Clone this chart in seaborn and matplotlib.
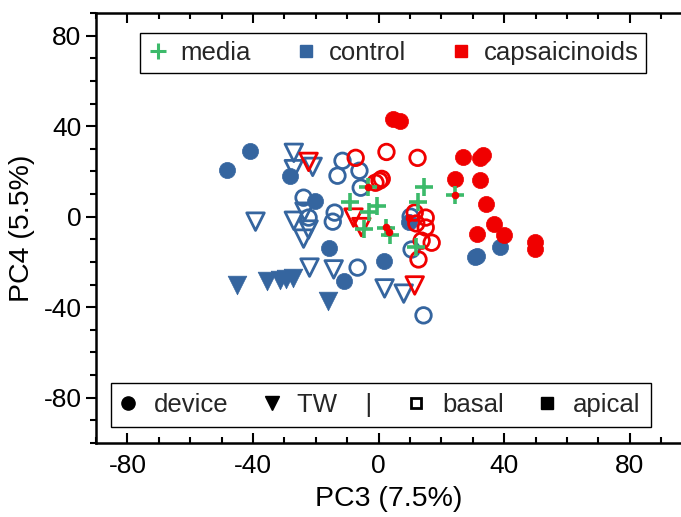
import matplotlib
matplotlib.use("Agg")
import matplotlib.pyplot as plt
from matplotlib.lines import Line2D
from matplotlib.ticker import MultipleLocator
import seaborn as sns
import pandas as pd

BLUE = "#35659f"
RED = "#f00000"
GREEN = "#3cba6a"

# control, device, apical (filled circles)
ctrl_dev_ap_x = [-48.4, -41.1, -28.3, -20.4, -15.9, -11.1, 1.6, 9.6, 30.6, 31.2, 38.5]
ctrl_dev_ap_y = [20.7, 29.1, 18.1, 7.0, -13.7, -28.6, -19.8, -2.2, -18.0, -17.2, -13.2]
# control, TW, apical (filled triangles)
ctrl_tw_ap_x = [-45.2, -35.7, -31.5, -29.5, -27.3, -16.2]
ctrl_tw_ap_y = [-30.0, -28.6, -27.8, -27.6, -27.3, -37.4]
# control, TW, basal (hollow triangles)
ctrl_tw_ba_x = [-27.0, -27.0, -21.0, -39.2, -27.0, -23.6, -22.3, -23.9, -22.0, -14.3, 1.9, 8.0]
ctrl_tw_ba_y = [28.2, 21.0, 22.0, -2.2, -1.8, 2.2, -5.7, -9.7, -22.5, -23.3, -31.7, -34.0]
# control, device, basal (hollow circles)
ctrl_dev_ba_x = [-11.5, -6.1, -13.1, -5.7, -23.9, -22.3, -14.0, -14.6, -6.7, 10.2, 10.5, 14.3]
ctrl_dev_ba_y = [24.7, 20.3, 18.1, 12.8, 8.4, -0.4, 1.8, -2.2, -22.5, 0.0, -14.5, -43.6]

# capsaicinoids, device, apical (filled circles)
caps_dev_ap_x = [4.5, 6.7, 26.8, 32.2, 33.4, 24.2, 32.2, 34.1, 36.6, 31.2, 39.8, 49.7, 49.7]
caps_dev_ap_y = [43.2, 42.3, 26.4, 26.0, 27.3, 16.7, 16.3, 5.7, -3.1, -7.5, -7.9, -11.0, -14.1]
# capsaicinoids, device, basal (hollow circles)
caps_dev_ba_x = [-7.3, 2.5, 12.4, -1.0, 0.3, 1.0, 11.5, 15.0, 15.0, 12.0, 13.7, 16.9, 12.7]
caps_dev_ba_y = [26.0, 28.6, 26.0, 15.0, 15.9, 16.7, 1.8, -0.4, -4.8, -3.0, -10.6, -11.5, -18.9]
# capsaicinoids, TW, basal (hollow triangles)
caps_tw_ba_x = [-22.3, -8.0, -5.5, 11.5]
caps_tw_ba_y = [24.2, -0.4, -4.6, -30.4]

# media (plus)
media_x = [-9.2, -3.2, -0.6, -4.8, 2.2, 3.5, 14.6, 12.7, 11.8, 24.2, -3.5]
media_y = [6.6, 2.2, 4.8, -5.3, -4.8, -7.9, 13.2, 6.6, -13.2, 9.7, 13.2]
# small red dots on media points
dot_x = [24.2, -3.5, 2.2, 3.2, 9.7]
dot_y = [9.7, 13.2, -4.4, -6.6, -0.8]

sns.set_theme(style="white")
plt.rcParams["font.family"] = ["Liberation Sans", "DejaVu Sans"]
plt.rcParams["axes.unicode_minus"] = False

fig = plt.figure(figsize=(6.81, 5.17), dpi=100)
ax = fig.add_axes([96 / 681, 74 / 517, 585 / 681, 430 / 517])

groups = [
    (ctrl_dev_ba_x, ctrl_dev_ba_y, "o", BLUE, False, 125),
    (ctrl_tw_ba_x, ctrl_tw_ba_y, "v", BLUE, False, 160),
    (ctrl_dev_ap_x, ctrl_dev_ap_y, "o", BLUE, True, 135),
    (ctrl_tw_ap_x, ctrl_tw_ap_y, "v", BLUE, True, 180),
    (caps_dev_ba_x, caps_dev_ba_y, "o", RED, False, 125),
    (caps_tw_ba_x, caps_tw_ba_y, "v", RED, False, 160),
    (caps_dev_ap_x, caps_dev_ap_y, "o", RED, True, 135),
]
for gx, gy, m, c, filled, s in groups:
    df = pd.DataFrame({"x": gx, "y": gy})
    if filled:
        sns.scatterplot(data=df, x="x", y="y", marker=m, s=s, color=c,
                        edgecolor=c, linewidth=0.5, ax=ax, zorder=3)
    else:
        sns.scatterplot(data=df, x="x", y="y", marker=m, s=s, color=c,
                        facecolor="none", edgecolor=c, linewidth=2.0, ax=ax, zorder=3)

mdf = pd.DataFrame({"x": media_x, "y": media_y})
sns.scatterplot(data=mdf, x="x", y="y", marker="+", s=170, color=GREEN,
                linewidth=2.6, ax=ax, zorder=4)
ddf = pd.DataFrame({"x": dot_x, "y": dot_y})
sns.scatterplot(data=ddf, x="x", y="y", marker="o", s=30, color=RED,
                edgecolor=RED, linewidth=0, ax=ax, zorder=5)

ax.set_xlim(-90, 96.3)
ax.set_ylim(-100, 90)
ax.set_xticks([-80, -40, 0, 40, 80])
ax.set_yticks([-80, -40, 0, 40, 80])
ax.xaxis.set_minor_locator(MultipleLocator(10))
ax.yaxis.set_minor_locator(MultipleLocator(10))
ax.set_xlabel("PC3 (7.5%)", fontsize=20.5, color="black", labelpad=6)
ax.set_ylabel("PC4 (5.5%)", fontsize=20.5, color="black", labelpad=6)

for side in ["left", "bottom", "top"]:
    ax.spines[side].set_visible(True)
    ax.spines[side].set_color("black")
    ax.spines[side].set_linewidth(1.8)
ax.spines["right"].set_visible(False)

ax.tick_params(axis="x", which="both", direction="in", top=True, bottom=True,
               labelsize=19, colors="black", width=1.5, pad=8)
ax.tick_params(axis="x", which="major", length=7)
ax.tick_params(axis="x", which="minor", length=4)
ax.tick_params(axis="y", which="both", direction="out", left=True,
               labelsize=19, colors="black", width=1.5)
ax.tick_params(axis="y", which="major", length=7)
ax.tick_params(axis="y", which="minor", length=4)

top_handles = [
    Line2D([], [], marker="+", color=GREEN, linestyle="none", markersize=11, markeredgewidth=2.2),
    Line2D([], [], marker="s", color=BLUE, linestyle="none", markersize=8),
    Line2D([], [], marker="s", color=RED, linestyle="none", markersize=8),
]
leg1 = ax.legend(top_handles, ["media", "control", "capsaicinoids"], ncol=3,
                 loc="upper center", bbox_to_anchor=(0.508, 0.953), fontsize=18.5,
                 frameon=True, fancybox=False, edgecolor="black", framealpha=1,
                 borderpad=0.3, handletextpad=0.47, columnspacing=1.75,
                 handlelength=0.8, borderaxespad=0)
leg1.get_frame().set_linewidth(1.0)
ax.add_artist(leg1)

bot_handles = [
    Line2D([], [], marker="o", color="black", linestyle="none", markersize=9.5),
    Line2D([], [], marker="v", color="black", linestyle="none", markersize=10),
    Line2D([], [], marker="s", color="black", markerfacecolor="white", linestyle="none",
           markersize=7, markeredgewidth=2),
    Line2D([], [], marker="s", color="black", linestyle="none", markersize=8),
]
leg2 = ax.legend(bot_handles, ["device", "TW    |", "basal", "apical"], ncol=4,
                 loc="lower center", bbox_to_anchor=(0.487, 0.037), fontsize=18.5,
                 frameon=True, fancybox=False, edgecolor="black", framealpha=1,
                 borderpad=0.4, handletextpad=0.75, columnspacing=1.45,
                 handlelength=0.5, borderaxespad=0)
leg2.get_frame().set_linewidth(1.0)

fig.savefig("out.png", dpi=100)
